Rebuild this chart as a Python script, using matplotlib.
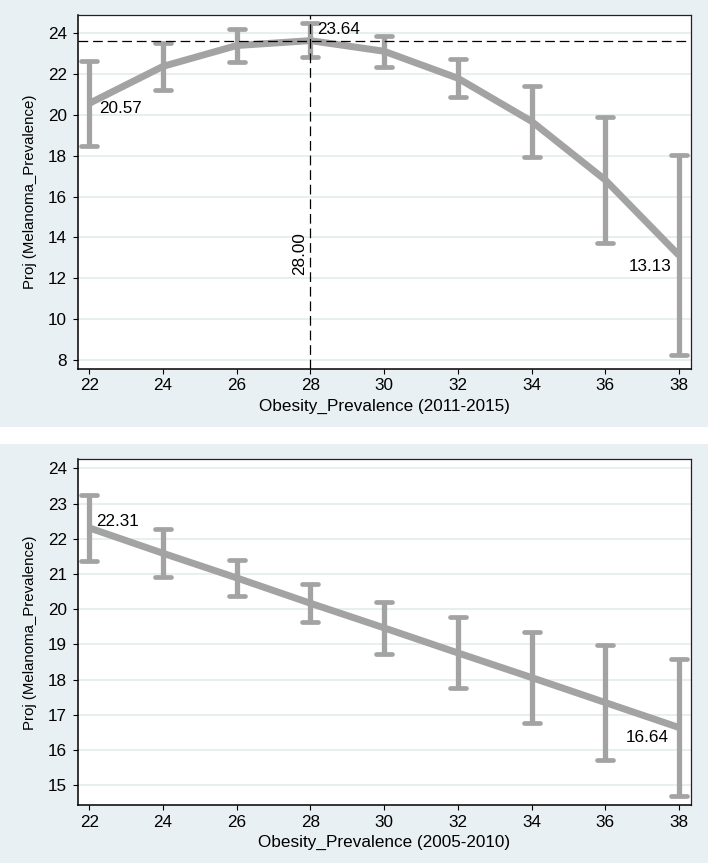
import matplotlib
matplotlib.use("Agg")
import matplotlib.pyplot as plt
from matplotlib.markers import MarkerStyle
from matplotlib.patches import Rectangle

plt.rcParams['font.family'] = ['Liberation Sans', 'DejaVu Sans']
plt.rcParams['lines.scale_dashes'] = False

# obesity prevalence grid (x) shared by both panels
obesity = [22, 24, 26, 28, 30, 32, 34, 36, 38]

# panel 1: 2011-2015
proj_1115 = [20.57, 22.38, 23.40, 23.64, 23.12, 21.80, 19.69, 16.82, 13.13]
lo_1115 = [18.48, 21.22, 22.61, 22.85, 22.36, 20.86, 17.95, 13.74, 8.26]
hi_1115 = [22.66, 23.51, 24.20, 24.49, 23.88, 22.74, 21.43, 19.91, 18.03]
yticks_1115 = [8, 10, 12, 14, 16, 18, 20, 22, 24]
peak_x, peak_y = 28.00, 23.64

# panel 2: 2005-2010
proj_0510 = [22.31, 21.59, 20.89, 20.17, 19.47, 18.76, 18.06, 17.35, 16.64]
lo_0510 = [21.37, 20.92, 20.38, 19.64, 18.74, 17.75, 16.76, 15.71, 14.69]
hi_0510 = [23.24, 22.27, 21.40, 20.71, 20.21, 19.77, 19.36, 18.98, 18.60]
yticks_0510 = [15, 16, 17, 18, 19, 20, 21, 22, 23, 24]

BG = "#e9f0f3"
GRID = "#e4ecef"
GRAY = "#a3a3a3"
FS = 12.3
W, H = 708, 863

fig = plt.figure(figsize=(W / 100, H / 100), dpi=100)
fig.patch.set_facecolor("white")
fig.patches.append(Rectangle((0, 1 - 427 / H), 1, 427 / H, transform=fig.transFigure,
                             facecolor=BG, edgecolor="none", zorder=-10))
fig.patches.append(Rectangle((0, 0), 1, (H - 444) / H, transform=fig.transFigure,
                             facecolor=BG, edgecolor="none", zorder=-10))

cap = MarkerStyle("_", capstyle="round")


def panel(ax, y, lo, hi, yticks, ylim, top_px, bot_px, xlabel):
    ax.set_facecolor("white")
    ax.vlines(obesity, lo, hi, color=GRAY, lw=3.8, zorder=3)
    ax.plot(obesity, lo, ls="none", marker=cap, ms=11, mew=3.4, color=GRAY, zorder=3)
    ax.plot(obesity, hi, ls="none", marker=cap, ms=11, mew=3.4, color=GRAY, zorder=3)
    ax.plot(obesity, y, color=GRAY, lw=5, solid_capstyle="butt", zorder=4)
    ax.set_xlim(21.7, 38.32)
    ax.set_ylim(*ylim)
    ax.set_xticks(obesity)
    ax.set_yticks(yticks)
    ax.yaxis.grid(True, color=GRID, lw=1.2)
    ax.set_axisbelow(True)
    ax.tick_params(direction="out", length=3.8, width=0.8, labelsize=FS, color="black")
    ax.tick_params(axis="x", pad=3)
    ax.tick_params(axis="y", pad=4.5)
    for s in ax.spines.values():
        s.set_color("#222222")
        s.set_linewidth(0.9)
    ax.spines["left"].set_color("black")
    ax.spines["bottom"].set_color("black")
    ax.spines["left"].set_linewidth(1.1)
    ax.spines["bottom"].set_linewidth(1.1)
    cx = (78.3 + 690.7) / 2 / W
    fig.text(cx, 1 - (bot_px + 37) / H, xlabel, ha="center", va="center", fontsize=FS)
    fig.text(30 / W, 1 - (top_px + bot_px) / 2 / H, "Proj (Melanoma_Prevalence)",
             rotation=90, ha="center", va="center", fontsize=10.8)


ax1 = fig.add_axes([78.3 / W, 1 - 369 / H, 612.4 / W, (369 - 14.7) / H])
panel(ax1, proj_1115, lo_1115, hi_1115, yticks_1115, (7.56, 24.91), 14.7, 369,
      "Obesity_Prevalence (2011-2015)")
ax1.axhline(peak_y, color="black", lw=0.9, dashes=(7, 3.5), zorder=5)
ax1.axvline(peak_x, color="black", lw=0.9, dashes=(7, 3.5), zorder=5)
ax1.annotate(f"{proj_1115[0]:.2f}", (obesity[0], proj_1115[0]), xytext=(10, -5),
             textcoords="offset pixels", ha="left", va="center", fontsize=FS, zorder=6)
ax1.annotate(f"{peak_y:.2f}", (peak_x, peak_y), xytext=(7, 11),
             textcoords="offset pixels", ha="left", va="center", fontsize=FS, zorder=6)
ax1.annotate(f"{proj_1115[-1]:.2f}", (obesity[-1], proj_1115[-1]), xytext=(-7, -11),
             textcoords="offset pixels", ha="right", va="center", fontsize=FS, zorder=6)
ax1.annotate(f"{peak_x:.2f}", (peak_x, 13.2), xytext=(-3, 0), textcoords="offset pixels",
             rotation=90, ha="right", va="center", fontsize=FS, zorder=6)

ax2 = fig.add_axes([78.3 / W, 1 - 805.3 / H, 612.4 / W, (805.3 - 459.3) / H])
panel(ax2, proj_0510, lo_0510, hi_0510, yticks_0510, (14.43, 24.26), 459.3, 805.3,
      "Obesity_Prevalence (2005-2010)")
ax2.annotate(f"{proj_0510[0]:.2f}", (obesity[0], proj_0510[0]), xytext=(7, 6),
             textcoords="offset pixels", ha="left", va="center", fontsize=FS, zorder=6)
ax2.annotate(f"{proj_0510[-1]:.2f}", (obesity[-1], proj_0510[-1]), xytext=(-10, -10),
             textcoords="offset pixels", ha="right", va="center", fontsize=FS, zorder=6)

fig.savefig("out.png", dpi=100, facecolor=fig.get_facecolor())
